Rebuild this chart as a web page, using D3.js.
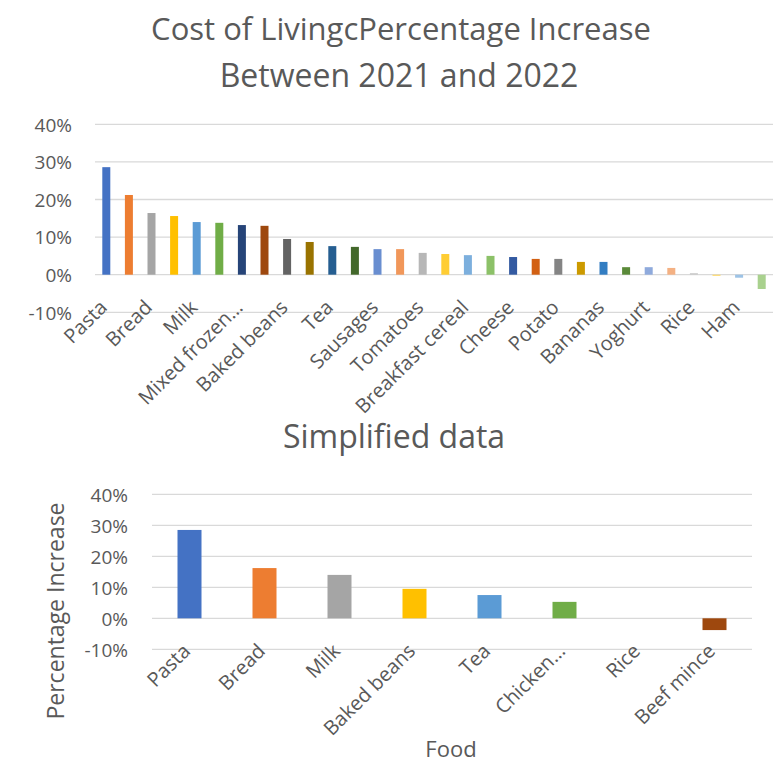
<!DOCTYPE html>
<html>
<head>
<meta charset="utf-8">
<script src="https://cdn.jsdelivr.net/npm/d3@7"></script>
<style>
  body { margin: 0; background: #fff; }
  svg text { font-family: "Open Sans", sans-serif; fill: #595959; }
</style>
</head>
<body>
<svg id="chart" width="781" height="764"></svg>
<script>
// top chart: all foods
var foods = ["Pasta", "Crisps", "Bread", "Butter", "Milk", "Jam", "Mixed frozen vegetables", "Chips",
  "Baked beans", "Eggs", "Tea", "Biscuits", "Sausages", "Apples", "Tomatoes", "Onions",
  "Breakfast cereal", "Chicken breasts", "Cheese", "Sugar", "Potato", "Orange juice", "Bananas",
  "Instant coffee", "Yoghurt", "Fish fingers", "Rice", "Carrots", "Ham", "Beef mince"];
var increase = [28.6, 21.2, 16.4, 15.6, 14.0, 13.8, 13.2, 13.0,
  9.5, 8.7, 7.6, 7.4, 6.8, 6.8, 5.8, 5.5,
  5.2, 5.0, 4.7, 4.2, 4.2, 3.4, 3.4,
  2.0, 2.0, 1.8, 0.4, -0.3, -0.8, -3.8];

// bottom chart: simplified data
var simpleFoods = ["Pasta", "Bread", "Milk", "Baked beans", "Tea", "Chicken breasts", "Rice", "Beef mince"];
var simpleIncrease = [28.5, 16.2, 14.0, 9.5, 7.5, 5.3, 0, -3.8];

var yTicks = [-10, 0, 10, 20, 30, 40];
var shortNames = { "Mixed frozen vegetables": "Mixed frozen…", "Chicken breasts": "Chicken…" };

var officeColors = ["#4472C4", "#ED7D31", "#A5A5A5", "#FFC000", "#5B9BD5", "#70AD47",
  "#264478", "#9E480E", "#636363", "#997300", "#255E91", "#43682B",
  "#698ED0", "#F1975A", "#B7B7B7", "#FFCD33", "#7CAFDD", "#8CC168",
  "#335AA1", "#D26012", "#848484", "#CC9A00", "#327DC2", "#5A8A39",
  "#8FAADC", "#F4B183", "#C9C9C9", "#FFD966", "#9DC3E6", "#A9D18E"];

var svg = d3.select("#chart");

function barChart(cats, vals, box, opts) {
  var x = d3.scaleBand()
    .domain(cats)
    .range([box.left, box.right])
    .paddingInner(opts.pad)
    .paddingOuter(opts.pad / 2);
  var y = d3.scaleLinear().domain([-10, 40]).range([box.bottom, box.top]);

  var g = svg.append("g");

  // gridlines
  g.selectAll("line.grid")
    .data(yTicks)
    .enter()
    .append("line")
    .attr("class", "grid")
    .attr("x1", box.left)
    .attr("x2", box.right)
    .attr("y1", function(d) { return y(d); })
    .attr("y2", function(d) { return y(d); })
    .attr("stroke", "#D9D9D9")
    .attr("stroke-width", 1.3);

  // y axis labels
  var yAxis = d3.axisLeft(y).tickValues(yTicks).tickSize(0).tickPadding(0)
    .tickFormat(function(d) { return d + "%"; });
  var ya = g.append("g")
    .attr("transform", "translate(" + opts.yLabelX + ",0)")
    .call(yAxis);
  ya.select(".domain").remove();
  ya.selectAll("text")
    .attr("font-size", opts.tickSize)
    .attr("fill", "#595959")
    .attr("font-family", "Open Sans")
    .attr("dy", "0.36em");

  // bars
  g.selectAll("rect.bar")
    .data(vals)
    .enter()
    .append("rect")
    .attr("class", "bar")
    .attr("x", function(d, i) { return x(cats[i]); })
    .attr("width", x.bandwidth())
    .attr("y", function(d) { return y(Math.max(0, d)); })
    .attr("height", function(d) { return Math.abs(y(d) - y(0)); })
    .attr("fill", function(d, i) { return officeColors[i]; });

  // category labels, rotated
  var shown = cats.filter(function(c, i) { return i % opts.every === 0; });
  var xAxis = d3.axisBottom(x).tickValues(shown).tickSize(0).tickPadding(0)
    .tickFormat(function(d) { return shortNames[d] || d; });
  var xa = g.append("g")
    .attr("transform", "translate(0," + y(0) + ")")
    .call(xAxis);
  xa.select(".domain").remove();
  xa.selectAll("text")
    .attr("font-size", opts.catSize)
    .attr("fill", "#595959")
    .attr("font-family", "Open Sans")
    .attr("text-anchor", "end")
    .attr("dy", null)
    .attr("y", 0)
    .attr("transform", "translate(" + opts.labDx + "," + opts.labDy + ") rotate(-45)");
  return { x: x, y: y };
}

// titles
svg.append("text").attr("x", 401).attr("y", 40).attr("text-anchor", "middle")
  .attr("font-size", 31).text("Cost of LivingcPercentage Increase");
svg.append("text").attr("x", 399).attr("y", 87).attr("text-anchor", "middle")
  .attr("font-size", 32).text("Between 2021 and 2022");

barChart(foods, increase,
  { left: 95, right: 773, top: 124.3, bottom: 312.3 },
  { pad: 0.646, every: 2, tickSize: 19, catSize: 20, yLabelX: 72, labDx: 2, labDy: 34 });

svg.append("text").attr("x", 394).attr("y", 448).attr("text-anchor", "middle")
  .attr("font-size", 32).text("Simplified data");

barChart(simpleFoods, simpleIncrease,
  { left: 152, right: 752, top: 494.3, bottom: 649.3 },
  { pad: 0.68, every: 1, tickSize: 19, catSize: 20, yLabelX: 128, labDx: 2, labDy: 34 });

// axis titles
svg.append("text")
  .attr("transform", "translate(64,611) rotate(-90)")
  .attr("text-anchor", "middle")
  .attr("font-size", 23)
  .text("Percentage Increase");
svg.append("text").attr("x", 451).attr("y", 757).attr("text-anchor", "middle")
  .attr("font-size", 22).text("Food");
</script>
</body>
</html>
